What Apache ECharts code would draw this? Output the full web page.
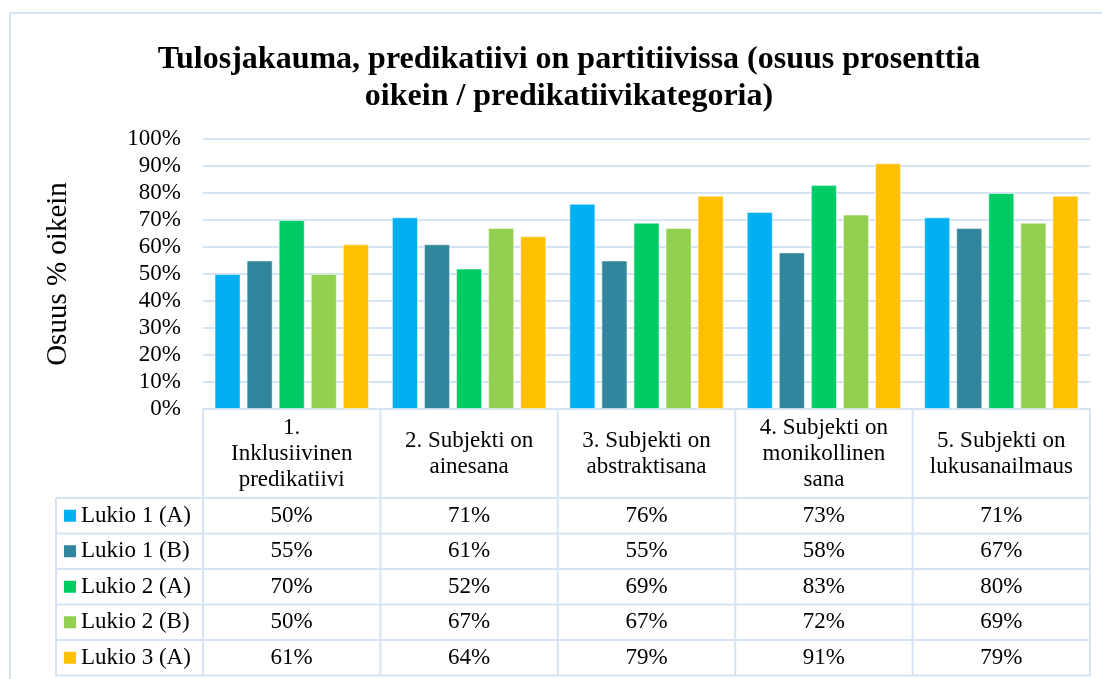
<!DOCTYPE html>
<html>
<head>
<meta charset="utf-8">
<script src="https://cdn.jsdelivr.net/npm/echarts@6/dist/echarts.min.js"></script>
<style>
  html, body { margin: 0; padding: 0; background: #fff; }
  #chart { width: 1102px; height: 679px; }
</style>
</head>
<body>
<div id="chart"></div>
<script>
// kategoriat (rivitetty kuten alkuperäisessä)
var categories = [
  '1.\nInklusiivinen\npredikatiivi',
  '2. Subjekti on\nainesana',
  '3. Subjekti on\nabstraktisana',
  '4. Subjekti on\nmonikollinen\nsana',
  '5. Subjekti on\nlukusanailmaus'
];
var seriesNames = ['Lukio 1 (A)', 'Lukio 1 (B)', 'Lukio 2 (A)', 'Lukio 2 (B)', 'Lukio 3 (A)'];
var lukio1A = [50, 71, 76, 73, 71];
var lukio1B = [55, 61, 55, 58, 67];
var lukio2A = [70, 52, 69, 83, 80];
var lukio2B = [50, 67, 67, 72, 69];
var lukio3A = [61, 64, 79, 91, 79];
var seriesData = [lukio1A, lukio1B, lukio2A, lukio2B, lukio3A];
var colors = ['#00B0F0', '#31859C', '#00CC66', '#92D050', '#FFC000'];
var yTicks = [0, 10, 20, 30, 40, 50, 60, 70, 80, 90, 100];

var FONT = '"Liberation Serif", "Times New Roman", serif';
var LINE = '#D6E3F3';
var TXT = 23;

var chart = echarts.init(document.getElementById('chart'));

var series = seriesNames.map(function(name, i){
  return {
    name: name,
    type: 'bar',
    data: seriesData[i],
    barGap: '23%',
    barCategoryGap: '13%',
    itemStyle: { color: colors[i], borderColor: 'rgba(255,255,255,0.5)', borderWidth: 1 }
  };
});

chart.setOption({
  animation: false,
  color: colors,
  title: {
    text: 'Tulosjakauma, predikatiivi on partitiivissa (osuus prosenttia\noikein / predikatiivikategoria)',
    left: 564,
    top: 36,
    textAlign: 'center',
    textStyle: { fontFamily: FONT, fontSize: 32, fontWeight: 'bold', color: '#000', lineHeight: 37 }
  },
  grid: { left: 203, right: 12, top: 139, bottom: 270 },
  xAxis: {
    type: 'category',
    data: categories,
    axisLine: { lineStyle: { color: LINE, width: 2 } },
    axisTick: { show: false },
    axisLabel: {
      interval: 0,
      margin: 45,
      verticalAlign: 'middle',
      fontFamily: FONT, fontSize: TXT, lineHeight: 26, color: '#000'
    }
  },
  yAxis: {
    type: 'value',
    min: yTicks[0],
    max: yTicks[yTicks.length - 1],
    interval: yTicks[1] - yTicks[0],
    name: 'Osuus % oikein',
    nameLocation: 'middle',
    nameGap: 130,
    nameTextStyle: { fontFamily: FONT, fontSize: 29, color: '#000' },
    axisLine: { show: false },
    axisTick: { show: false },
    axisLabel: { formatter: '{value}%', margin: 22, fontFamily: FONT, fontSize: TXT, color: '#000' },
    splitLine: { lineStyle: { color: LINE, width: 2 } }
  },
  series: series
});

// datataulukko akselien mukaan
function buildTable(){
  var c0 = chart.convertToPixel({ xAxisIndex: 0 }, 0);
  var c1 = chart.convertToPixel({ xAxisIndex: 0 }, 1);
  var bw = c1 - c0;
  var y0 = chart.convertToPixel({ yAxisIndex: 0 }, 0);
  var headerH = 89, rowH = 35.5;
  var left = c0 - bw / 2, right = left + bw * categories.length;
  var legendLeft = 56;
  var yH = y0 + headerH;
  var yEnd = yH + rowH * seriesNames.length;
  var els = [];
  var lineStyle = { stroke: LINE, lineWidth: 2 };

  // ulkoreunus
  els.push({ type: 'rect', shape: { x: 10, y: 13, width: 1200, height: 800 },
    style: { fill: null, stroke: LINE, lineWidth: 2 }, silent: true });

  for (var k = 0; k <= categories.length; k++){
    var x = left + bw * k;
    els.push({ type: 'line', shape: { x1: x, y1: y0, x2: x, y2: yEnd }, style: lineStyle });
  }
  els.push({ type: 'line', shape: { x1: legendLeft, y1: yH, x2: legendLeft, y2: yEnd }, style: lineStyle });
  for (var r = 0; r <= seriesNames.length; r++){
    var y = yH + rowH * r;
    els.push({ type: 'line', shape: { x1: legendLeft, y1: y, x2: right, y2: y }, style: lineStyle });
  }
  seriesNames.forEach(function(name, i){
    var cy = yH + rowH * i + rowH / 2;
    els.push({ type: 'rect', shape: { x: legendLeft + 8, y: cy - 6, width: 12, height: 12 },
      style: { fill: colors[i] } });
    els.push({ type: 'text', x: legendLeft + 25, y: cy,
      style: { text: name, font: TXT + 'px ' + FONT, fill: '#000', verticalAlign: 'middle', align: 'left' } });
    seriesData[i].forEach(function(v, j){
      var cx = chart.convertToPixel({ xAxisIndex: 0 }, j);
      els.push({ type: 'text', x: cx, y: cy,
        style: { text: v + '%', font: TXT + 'px ' + FONT, fill: '#000', verticalAlign: 'middle', align: 'center' } });
    });
  });
  chart.setOption({ graphic: { elements: els } });
}
buildTable();
</script>
</body>
</html>
